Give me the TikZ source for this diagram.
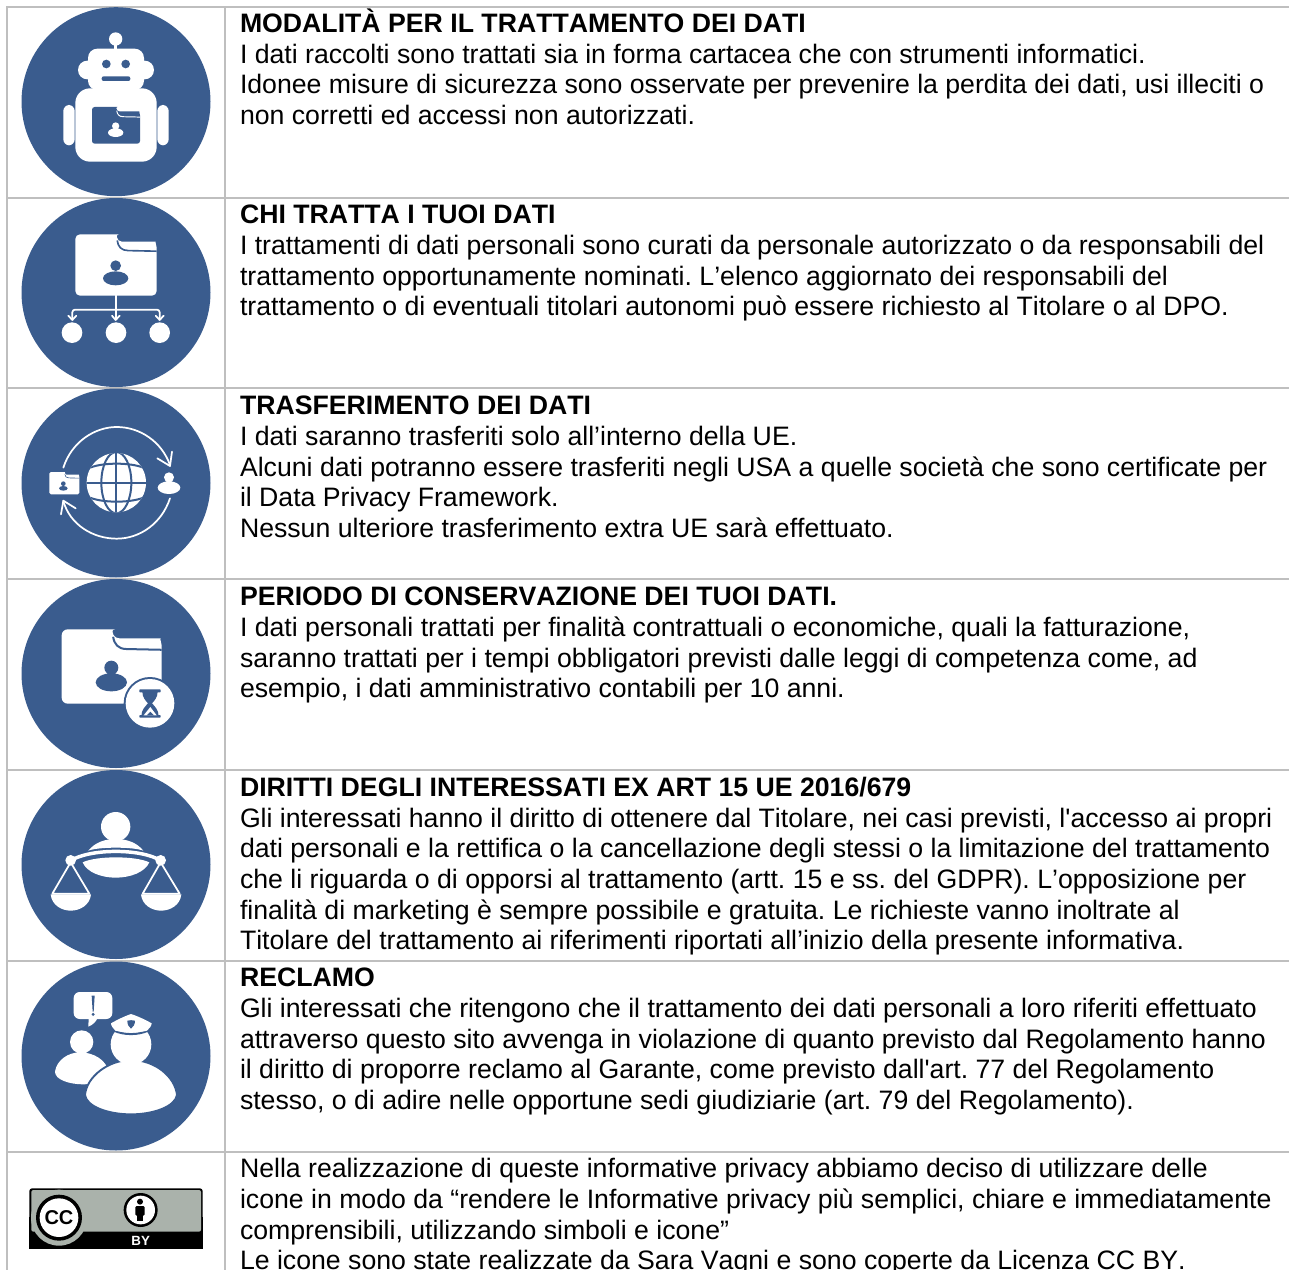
\documentclass[tikz,border=0pt]{standalone}
\usepackage{fontspec}
\setmainfont{Liberation Sans}[Ligatures=TeXOff,Kerning=Off]
\definecolor{ico}{HTML}{3A5C8E}
\definecolor{rule}{HTML}{BFBFBF}
\definecolor{ccg}{HTML}{AAB2AB}
\newcommand{\folderico}[7]{%
  \pgfmathsetlengthmacro{\fwx}{#3*0.25pt}\pgfmathsetlengthmacro{\fhy}{-#4*0.25pt}%
  \pgfmathsetlengthmacro{\flw}{#3*0.005pt}%
  \begin{scope}[shift={(#1,#2)},x=\fwx,y={(0pt,\fhy)}]
    \fill[#6,rounded corners=#5] (0,0) -- (.475,0) .. controls (.5,0) and (.51,.04) .. (.515,.12) -- (.93,.12) .. controls (.98,.12) and (1,.2) .. (1,.3) -- (1,1) -- (0,1) -- cycle;
    \draw[#7,line width=\flw] (.515,.1) .. controls (.525,.2) and (.565,.265) .. (.65,.265) -- (1,.275);
  \end{scope}}
\tikzset{
  zm/.style={shift={(0pt,{-#1*0.75pt})},x=0.25pt,y=-0.25pt},
  gridline/.style={draw=rule,line width=1.5pt},
  disc/.style={fill=ico},
  txt/.style={anchor=north west,inner sep=0pt,outer sep=0pt,align=left,font=\fontsize{20pt}{23pt}\selectfont\frenchspacing,text=black},
  wl/.style={draw=white,line cap=round,line join=round},
}
\begin{document}
\begin{tikzpicture}[x=0.75pt,y=-0.75pt]
\useasboundingbox (0,0) rectangle (1289,1270);
\clip (0,0) rectangle (1289,1270);
\fill[white] (0,0) rectangle (1289,1270);
% table rules
\coordinate (a) at (7,7); \coordinate (b) at (1289,7);
\draw[gridline] (a) -- (b);
\foreach \yy in {197.5,388,578.5,769.5,960.5,1151.5} \draw[gridline] (7,\yy) -- (1289,\yy);
\draw[gridline] (7,6.2) -- (7,1270);
\draw[gridline] (225,6.2) -- (225,1270);
% discs
\foreach \yy in {101.7,292.5,483,673.5,864.5,1056} \fill[disc] (116,\yy) circle (94.5);

% ROBOT
\begin{scope}[zm=0]
 \fill[white] (347,117) circle (20);
 \fill[white] (343,130) rectangle (351,155);
 \fill[white,rounded corners=7pt] (264,146) rectangle (432,270);
 \fill[white] (262,210) circle (28) (434,210) circle (28);
 \fill[white,rounded corners=11pt] (226,265) rectangle (470,485);
 \fill[white,rounded corners=4.5pt] (190,315) rectangle (224,436);
 \fill[white,rounded corners=4.5pt] (472,315) rectangle (506,436);
 \fill[ico] (319,192) circle (13) (377,192) circle (13);
 \fill[ico,rounded corners=1.5pt] (305,229) rectangle (391,243);
 \folderico{276}{321}{144}{110}{2pt}{ico}{white}
 \fill[white] (347,378) circle (11);
 \fill[white] (347,398) ellipse (23 and 13);
\end{scope}

% HIERARCHY
\begin{scope}[zm=195]
 \folderico{226}{118}{244}{184}{3.5pt}{white}{ico}
 \fill[ico] (347,212) circle (16);
 \fill[ico] (347,250) ellipse (38 and 21);
 \draw[wl,line width=1.3pt] (347,302) -- (347,373);
 \draw[wl,line width=1.3pt,rounded corners=2pt] (217,373) -- (217,344) -- (479,344) -- (479,373);
 \draw[wl,line width=1.3pt] (205,362) -- (217,375) -- (229,362);
 \draw[wl,line width=1.3pt] (336,362) -- (347,375) -- (359,362);
 \draw[wl,line width=1.3pt] (467,362) -- (479,375) -- (491,362);
 \fill[white] (216,413) circle (31) (348,413) circle (31) (479,413) circle (31);
\end{scope}

% TRANSFER
\begin{scope}[zm=385]
 \draw[wl,line width=1.3pt] (190,248) .. controls (215,170) and (285,126) .. (350,126) .. controls (420,126) and (485,170) .. (510,240);
 \draw[wl,line width=1.3pt] (472,220) -- (510,243) -- (516,200);
 \draw[wl,line width=1.3pt] (510,340) .. controls (485,415) and (420,461) .. (350,461) .. controls (280,461) and (210,420) .. (190,348);
 \draw[wl,line width=1.3pt] (183,388) -- (190,347) -- (227,370);
 \fill[white] (349,293) circle (89);
 \begin{scope}
  \clip (349,293) circle (89);
  \draw[ico,line width=1.5pt] (349,200) -- (349,390) (255,293) -- (445,293);
  \draw[ico,line width=1.5pt] (349,293) ellipse (45 and 92);
  \draw[ico,line width=1.5pt] (270,248) .. controls (310,232) and (390,232) .. (430,248);
  \draw[ico,line width=1.5pt] (270,338) .. controls (310,354) and (390,354) .. (430,338);
 \end{scope}
 \folderico{148}{261}{90}{67}{1.2pt}{white}{ico}
 \fill[ico] (190,296) circle (7) (190,310) ellipse (13 and 7);
 \fill[white] (507,277) circle (15) (507,308) ellipse (34 and 19);
\end{scope}

% RETENTION
\begin{scope}[zm=575]
 \folderico{185}{163}{300}{223}{4.5pt}{white}{ico}
 \fill[ico] (334,278) circle (21) (334,322) ellipse (47 and 27);
 \fill[ico] (450,385) circle (79);
 \fill[white] (450,385) circle (73);
 \fill[ico,rounded corners=0.5pt] (418,343) rectangle (482,352) (418,420) rectangle (482,428);
 \fill[ico] (427,350) -- (473,350) .. controls (473,368) and (462,378) .. (456,385) .. controls (462,392) and (476,404) .. (476,423) -- (424,423) .. controls (424,404) and (438,392) .. (444,385) .. controls (438,378) and (427,368) .. (427,350) -- cycle;
 \fill[white] (451,396) -- (470,421) -- (431,421) -- cycle;
 \fill[ico] (451,410) -- (462,421) -- (440,421) -- cycle;
\end{scope}

% SCALES
\begin{scope}[zm=765]
 \fill[white] (347,185) circle (44);
 \fill[white] (265,257) .. controls (285,232) and (315,222) .. (347,222) .. controls (380,222) and (410,232) .. (430,257) .. controls (400,245) and (295,245) .. (265,257) -- cycle;
 \fill[white] (248,292) .. controls (290,272) and (405,272) .. (448,292) .. controls (435,322) and (390,338) .. (347,338) .. controls (305,338) and (260,322) .. (248,292) -- cycle;
 \draw[white,line width=2.6pt] (212,287) .. controls (270,250) and (425,250) .. (482,287);
 \fill[white] (212,286) circle (16) (482,286) circle (16);
 \draw[wl,line width=1.3pt] (212,292) -- (157,386) -- (268,386) -- cycle;
 \draw[wl,line width=1.3pt] (482,292) -- (428,386) -- (539,386) -- cycle;
 \fill[white] (152,388) .. controls (155,420) and (185,437) .. (212,437) .. controls (240,437) and (270,420) .. (273,388) -- cycle;
 \fill[white] (423,388) .. controls (426,420) and (456,437) .. (483,437) .. controls (511,437) and (541,420) .. (544,388) -- cycle;
\end{scope}

% COMPLAINT
\begin{scope}[zm=955]
 \fill[white,rounded corners=4.5pt] (221,111) rectangle (337,192);
 \fill[white] (266,190) -- (265,215) .. controls (278,210) and (288,200) .. (292,190) -- cycle;
 \fill[ico] (275,122) -- (284,122) -- (281,170) -- (278,170) -- cycle;
 \fill[ico] (279.5,178) circle (5);
 \fill[white] (245,261) circle (35);
 \fill[white] (165,350) .. controls (170,315) and (205,292) .. (240,292) .. controls (280,292) and (320,315) .. (325,350) .. controls (325,375) and (285,388) .. (250,388) .. controls (210,388) and (165,375) .. (165,350) -- cycle;
 \draw[ico,line width=1.4pt,fill=white] (255,420) .. controls (260,365) and (325,315) .. (393,315) .. controls (465,315) and (525,365) .. (531,420) .. controls (525,455) and (460,478) .. (393,478) .. controls (325,478) and (260,455) .. (255,420) -- cycle;
 \fill[white] (393,268) circle (61);
 \draw[ico,line width=1.5pt] (340,226) .. controls (370,241) and (416,241) .. (446,226);
 \fill[white] (333,205) .. controls (350,195) and (375,183) .. (393,177) .. controls (412,183) and (438,195) .. (455,205) .. controls (455,212) and (448,221) .. (441,227) .. controls (420,233) and (370,233) .. (346,227) .. controls (340,221) and (333,212) .. (333,205) -- cycle;
 \fill[ico] (382,197) .. controls (390,195) and (397,195) .. (405,197) .. controls (405,208) and (400,216) .. (393,221) .. controls (386,216) and (382,208) .. (382,197) -- cycle;
\end{scope}

% CC BY badge
\begin{scope}[zm=1150]
 \fill[black,rounded corners=2pt] (88,115) rectangle (608,296);
 \fill[black] (88,200) rectangle (608,296);
 \fill[ccg,rounded corners=1.5pt] (94,120) rectangle (603,245);
 \fill[ccg] (177,203) circle (84);
 \fill[black] (177,203) circle (69);
 \fill[white] (177,203) circle (58);
 \node[inner sep=0pt,font=\fontsize{15pt}{15pt}\bfseries] (cc) at (177,203) {CC};
 \fill[black] (422,180) circle (51);
 \fill[white] (422,180) circle (43);
 \fill[black] (420,155) circle (9);
 \fill[black,rounded corners=1pt] (406,168) rectangle (434,197);
 \fill[black] (411,190) rectangle (430,214);
 \node[inner sep=0pt,font=\fontsize{10pt}{10pt}\bfseries,text=white] (by) at (422,273) {BY};
\end{scope}

% TEXT
\node[txt] (t1) at (240,9) {\strut\textbf{MODALITÀ PER IL TRATTAMENTO DEI DATI}\\
I dati raccolti sono trattati sia in forma cartacea che con strumenti informatici.\\
Idonee misure di sicurezza sono osservate per prevenire la perdita dei dati, usi illeciti o\\
non corretti ed accessi non autorizzati.};
\node[txt] (t2) at (240,202.5) {\strut\textbf{CHI TRATTA I TUOI DATI}\\
I trattamenti di dati personali sono curati da personale autorizzato o da responsabili del\\
trattamento opportunamente nominati. L’elenco aggiornato dei responsabili del\\
trattamento o di eventuali titolari autonomi può essere richiesto al Titolare o al DPO.};
\node[txt] (t3) at (240,393.5) {\strut\textbf{TRASFERIMENTO DEI DATI}\\
I dati saranno trasferiti solo all’interno della UE.\\
Alcuni dati potranno essere trasferiti negli USA a quelle società che sono certificate per\\
il Data Privacy Framework.\\
Nessun ulteriore trasferimento extra UE sarà effettuato.};
\node[txt] (t4) at (240,584.5) {\strut\textbf{PERIODO DI CONSERVAZIONE DEI TUOI DATI.}\\
I dati personali trattati per finalità contrattuali o economiche, quali la fatturazione,\\
saranno trattati per i tempi obbligatori previsti dalle leggi di competenza come, ad\\
esempio, i dati amministrativo contabili per 10 anni.};
\node[txt] (t5) at (240,775) {\strut\textbf{DIRITTI DEGLI INTERESSATI EX ART 15 UE 2016/679}\\
Gli interessati hanno il diritto di ottenere dal Titolare, nei casi previsti, l'accesso ai propri\\
dati personali e la rettifica o la cancellazione degli stessi o la limitazione del trattamento\\
che li riguarda o di opporsi al trattamento (artt. 15 e ss. del GDPR). L’opposizione per\\
finalità di marketing è sempre possibile e gratuita. Le richieste vanno inoltrate al\\
Titolare del trattamento ai riferimenti riportati all’inizio della presente informativa.};
\node[txt] (t6) at (240,965.5) {\strut\textbf{RECLAMO}\\
Gli interessati che ritengono che il trattamento dei dati personali a loro riferiti effettuato\\
attraverso questo sito avvenga in violazione di quanto previsto dal Regolamento hanno\\
il diritto di proporre reclamo al Garante, come previsto dall'art. 77 del Regolamento\\
stesso, o di adire nelle opportune sedi giudiziarie (art. 79 del Regolamento).};
\node[txt] (t7) at (240,1156.2) {\strut Nella realizzazione di queste informative privacy abbiamo deciso di utilizzare delle\\
icone in modo da “rendere le Informative privacy più semplici, chiare e immediatamente\\
comprensibili, utilizzando simboli e icone”\\
Le icone sono state realizzate da Sara Vagni e sono coperte da Licenza CC BY.};
\end{tikzpicture}
\end{document}
